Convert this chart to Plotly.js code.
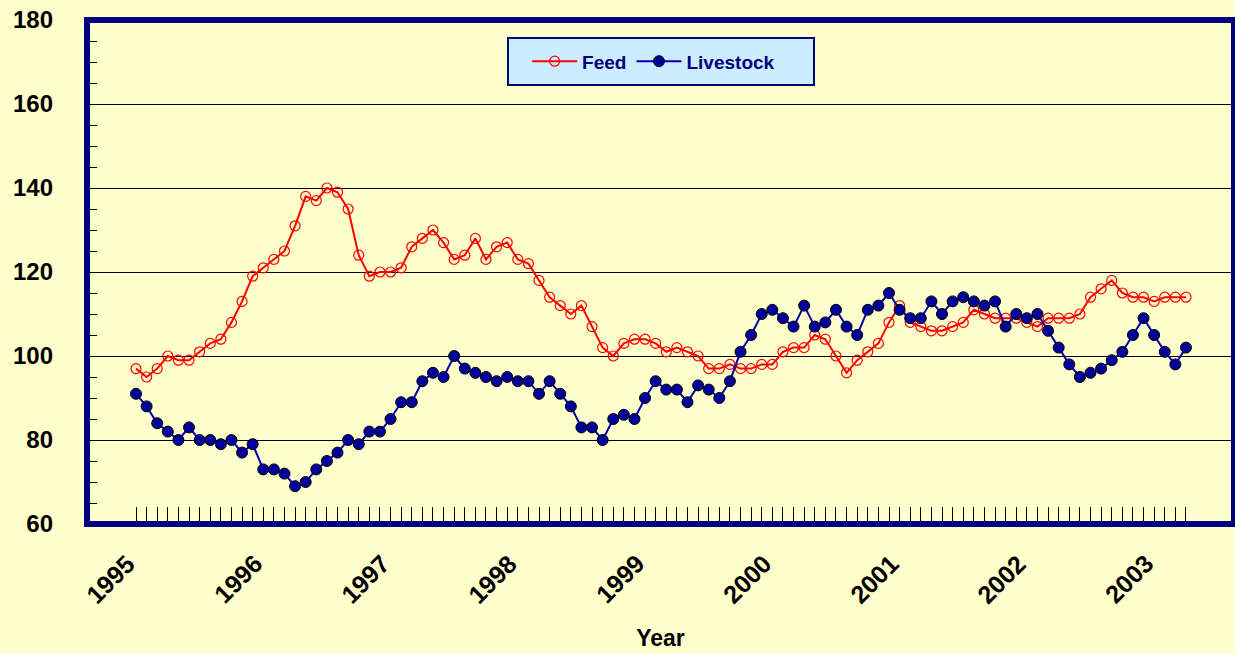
<!DOCTYPE html>
<html>
<head>
<meta charset="utf-8">
<script src="https://cdn.plot.ly/plotly-3.0.1.min.js"></script>
<style>
  html, body { margin: 0; padding: 0; background: #FFFFCC; }
  #chart { width: 1235px; height: 654px; }
</style>
</head>
<body>
<div id="chart"></div>
<script>
// Monthly index values, Jan 1995 .. Apr 2003
const years = ['1995','1996','1997','1998','1999','2000','2001','2002','2003'];
const feed = [97,95,97,100,99,99,101,103,104,108,113,119,121,123,125,131,138,137,140,139,135,124,119,120,120,121,
  126,128,130,127,123,124,128,123,126,127,123,122,118,114,112,110,112,107,102,100,103,104,104,103,101,102,
  101,100,97,97,98,97,97,98,98,101,102,102,105,104,100,96,99,101,103,108,112,108,107,106,106,107,
  108,111,110,109,109,109,108,107,109,109,109,110,114,116,118,115,114,114,113,114,114,114];
const livestock = [91,88,84,82,80,83,80,80,79,80,77,79,73,73,72,69,70,73,75,77,80,79,82,82,85,89,
  89,94,96,95,100,97,96,95,94,95,94,94,91,94,91,88,83,83,80,85,86,85,90,94,92,92,
  89,93,92,90,94,101,105,110,111,109,107,112,107,108,111,107,105,111,112,115,111,109,109,113,110,113,
  114,113,112,113,107,110,109,110,106,102,98,95,96,97,99,101,105,109,105,101,98,102];
const seriesNames = ['Feed', 'Livestock'];

const monthIdx = feed.map((_, i) => i);
const font = 'Arial, "Liberation Sans", sans-serif';

const traces = [
  {
    x: monthIdx, y: feed, name: seriesNames[0], type: 'scatter', mode: 'lines+markers',
    line: { color: '#FF0000', width: 2 },
    marker: { symbol: 'circle-open', size: 10, color: '#FF0000', line: { color: '#FF0000', width: 1.2 } }
  },
  {
    x: monthIdx, y: livestock, name: seriesNames[1], type: 'scatter', mode: 'lines+markers',
    line: { color: '#0000B0', width: 2 },
    marker: { symbol: 'circle', size: 11, color: '#000099', line: { color: '#000000', width: 1 } }
  }
];

// Year labels at each January, rotated like the original
const yearAnnotations = years.map((yr, k) => ({
  x: k * 12, xref: 'x', y: 0, yref: 'paper',
  text: yr, showarrow: false, textangle: -45,
  xanchor: 'right', yanchor: 'top', xshift: 7, yshift: -22,
  font: { family: font, size: 25, color: '#000000', weight: 'bold' }
}));

const layout = {
  width: 1235, height: 654,
  paper_bgcolor: '#FFFFCC', plot_bgcolor: '#FFFFCC',
  margin: { l: 87, r: 1, t: 20, b: 130 },
  showlegend: true,
  legend: {
    orientation: 'h', x: 0.494, xanchor: 'center', y: 0.918, yanchor: 'middle',
    bgcolor: 'rgba(0,0,0,0)', borderwidth: 0,
    font: { family: font, size: 19, color: '#000080', weight: 'bold' },
    itemwidth: 45
  },
  xaxis: {
    range: [-4.62, 103.53],
    tickmode: 'array', tickvals: monthIdx, ticktext: monthIdx.map(() => ''),
    ticks: 'inside', ticklen: 17, tickwidth: 1, tickcolor: '#000000',
    showgrid: false, zeroline: false, showline: false,
    title: { text: 'Year', font: { family: font, size: 23, color: '#000000', weight: 'bold' }, standoff: 105 }
  },
  yaxis: {
    range: [60, 180], dtick: 20, tick0: 60,
    ticks: 'inside', ticklen: 20, tickwidth: 1, tickcolor: '#000000',
    tickfont: { family: font, size: 24, color: '#000000', weight: 'bold' },
    showgrid: true, gridcolor: '#000000', gridwidth: 1,
    zeroline: false, showline: false,
    ticklabelstandoff: 33,
    minor: { dtick: 5, tick0: 60, ticks: 'inside', ticklen: 10, tickwidth: 1, tickcolor: '#000000', showgrid: false }
  },
  annotations: yearAnnotations,
  shapes: [
    { type: 'rect', xref: 'paper', yref: 'paper', x0: 0, x1: 1, y0: 0, y1: 1,
      line: { color: '#000080', width: 6 }, fillcolor: 'rgba(0,0,0,0)', layer: 'above' },
    // legend box
    { type: 'rect', xref: 'paper', yref: 'paper',
      x0: (508 - 87) / 1147, x1: (814 - 87) / 1147, y0: 1 - (85 - 20) / 504, y1: 1 - (38 - 20) / 504,
      line: { color: '#000080', width: 2 }, fillcolor: '#CCECFF', layer: 'above' }
  ]
};

Plotly.newPlot('chart', traces, layout, { displayModeBar: false, staticPlot: true });
</script>
</body>
</html>
